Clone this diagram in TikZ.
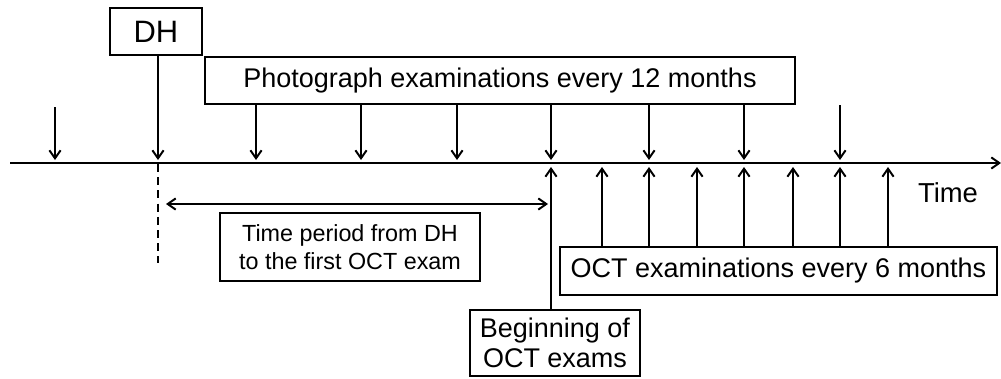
\documentclass[tikz,border=0pt]{standalone}
\usepackage{fontspec}
\setmainfont{Liberation Sans}
\usepackage{tikz}
\usetikzlibrary{positioning}
\usetikzlibrary {arrows.meta}

\tikzset{
	box/.style={draw,line width=1.4pt,inner sep=0pt,align=center,font=\fontsize{19.2}{21.5}\selectfont},
	tip/.tip={Straight Barb[length=2mm,width=2.8mm,line width=1.4pt]},
	arr/.style={line width=1.4pt,-tip},
}

\begin{document}
\begin{tikzpicture}[x=0.25mm,y=-0.25mm]
		\useasboundingbox (0,0) rectangle (1001,378);
		
		\node[box,minimum width=23mm,minimum height=11.75mm,font=\fontsize{22}{24}\selectfont] (dh) at (156,31.5) {DH};
		\node[box,minimum width=147.5mm,minimum height=11.75mm] (photo) at (500,80.5) {Photograph examinations every 12 months};
		\node[box,minimum width=109.25mm,minimum height=12mm] (oct) at (778.5,271) {OCT examinations every 6 months};
		\node[box,minimum width=42.5mm,minimum height=16.5mm] (begin) at (555,343) {Beginning of\\OCT exams};
		\node[box,minimum width=65mm,minimum height=17mm,font=\fontsize{16.6}{20}\selectfont] (period) at (350,247) {Time period from DH\\to the first OCT exam};
		\node[font=\fontsize{19.5}{21}\selectfont] (time) at (948,193) {Time};
		
		% time axis
		\coordinate (axstart) at (10,163);
		\coordinate (axend) at (1001,163);
		\draw[arr] (axstart) -- (axend);
		
		% photograph exams
		\coordinate (p0) at (55,107);
		\coordinate (p0e) at (55,160);
		\draw[arr] (p0) -- (p0e);
		\coordinate (dhe) at (158,160);
		\draw[arr] (dh.south -| dhe) -- (dhe);
		\coordinate (p2) at (256,160);
		\coordinate (p3) at (361,160);
		\coordinate (p4) at (457,160);
		\coordinate (p5) at (551,160);
		\coordinate (p6) at (649,160);
		\coordinate (p7) at (744,160);
		\draw[arr] (photo.south -| p2) -- (p2);
		\draw[arr] (photo.south -| p3) -- (p3);
		\draw[arr] (photo.south -| p4) -- (p4);
		\draw[arr] (photo.south -| p5) -- (p5);
		\draw[arr] (photo.south -| p6) -- (p6);
		\draw[arr] (photo.south -| p7) -- (p7);
		\coordinate (p8) at (840,105);
		\coordinate (p8e) at (840,160);
		\draw[arr] (p8) -- (p8e);
		
		% OCT exams
		\coordinate (o1) at (551,167);
		\coordinate (o2) at (602,167);
		\coordinate (o3) at (649,167);
		\coordinate (o4) at (697,167);
		\coordinate (o5) at (744,167);
		\coordinate (o6) at (793,167);
		\coordinate (o7) at (840,167);
		\coordinate (o8) at (888,167);
		\draw[arr] (begin.north -| o1) -- (o1);
		\draw[arr] (oct.north -| o2) -- (o2);
		\draw[arr] (oct.north -| o3) -- (o3);
		\draw[arr] (oct.north -| o4) -- (o4);
		\draw[arr] (oct.north -| o5) -- (o5);
		\draw[arr] (oct.north -| o6) -- (o6);
		\draw[arr] (oct.north -| o7) -- (o7);
		\draw[arr] (oct.north -| o8) -- (o8);
		
		% period from DH
		\coordinate (dhtick) at (158,164);
		\coordinate (dhlow) at (158,263);
		\draw[line width=1.4pt,dash pattern=on 2mm off 1.3mm] (dhtick) -- (dhlow);
		\coordinate (pstart) at (166,204);
		\coordinate (pend) at (548,204);
		\draw[arr,tip-tip] (pstart) -- (pend);
	\end{tikzpicture}
\end{document}
